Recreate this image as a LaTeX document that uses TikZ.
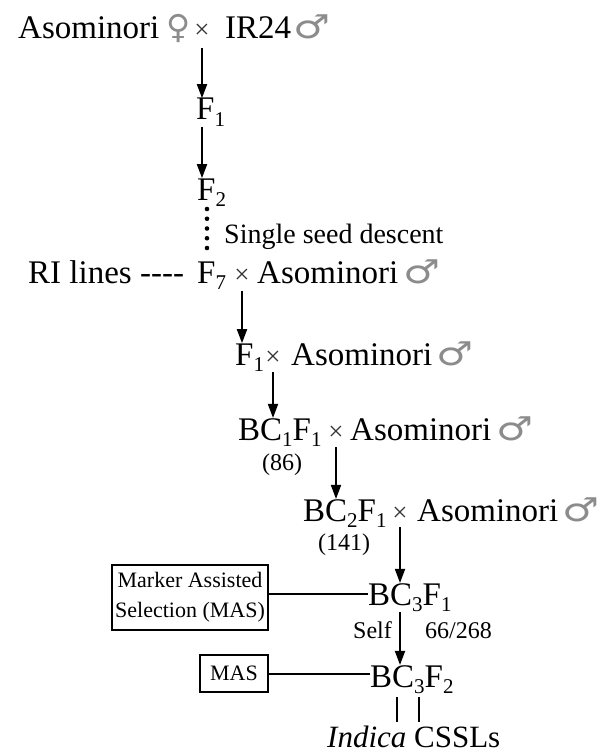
\documentclass[tikz,border=0pt]{standalone}
\usepackage{fontspec}
\setmainfont{Liberation Serif}
\newfontfamily\symf{DejaVu Sans}
\usetikzlibrary{arrows.meta,calc}
\newcommand\sbs[1]{\raisebox{-0.2em}{\fontsize{21}{21}\selectfont #1}}
\newcommand\bigfnt{\fontsize{33}{38}\selectfont}
\newcommand\male{\scalebox{1.25}[1]{♂}}
\newcommand\female{♀}
\begin{document}
\begin{tikzpicture}[x=1pt,y=1pt,
  t/.style={inner sep=0pt, anchor=base west, font=\bigfnt},
  crs/.style={inner sep=0pt, anchor=base, font=\fontsize{27}{30}\selectfont, text=black!80},
  sm/.style={inner sep=0pt, anchor=base west, font=\fontsize{24}{26}\selectfont},
  sym/.style={inner sep=0pt, anchor=base west, font=\symf\fontsize{33}{36}\selectfont, text=black!45},
  arr/.style={line width=1.8pt, -{Triangle[length=14pt,width=10pt]}},
  bx/.style={draw, line width=2.2pt, inner sep=0pt, align=center},
  ln/.style={line width=2pt}]
\useasboundingbox (0,0) rectangle (602,-754);
% line 1
\node[t] (a1) at (18,-39) {Asominori};
\node[sym] (fem) at (166,-39) {\female};
\node[crs] (x1) at (202,-39) {×};
\node[t] (ir) at (225,-39) {IR24};
\node[sym] (m1) at (293,-39) {\male};
% F1, F2
\node[t] (f1) at (196,-120) {F\sbs{1}};
\node[t] (f2) at (197,-200) {F\sbs{2}};
\node[inner sep=0pt, anchor=base west, font=\fontsize{28}{30}\selectfont] (ssd) at (224,-243) {Single seed descent};
% RI line
\node[t] (ri) at (28,-283) {RI lines -{}-{}-{}-};
\node[t] (f7) at (197,-283) {F\sbs{7}};
\node[crs] (x3) at (242,-283) {×};
\node[t] (as3) at (257,-283) {Asominori};
\node[sym] (m3) at (403,-283) {\male};
% F1 x
\node[t] (f1b) at (235,-365) {F\sbs{1}};
\node[crs] (x4) at (273,-365) {×};
\node[t] (as4) at (291,-365) {Asominori};
\node[sym] (m4) at (436,-365) {\male};
% BC1F1
\node[t] (bc1) at (238,-440) {BC\sbs{1}F\sbs{1}};
\node[crs] (x5) at (336,-440) {×};
\node[t] (as5) at (350,-440) {Asominori};
\node[sym] (m5) at (496,-440) {\male};
\node[sm] (n86) at (262,-470) {(86)};
% BC2F1
\node[t] (bc2) at (303,-521) {BC\sbs{2}F\sbs{1}};
\node[crs] (x6) at (400,-521) {×};
\node[t] (as6) at (417,-521) {Asominori};
\node[sym] (m6) at (562,-521) {\male};
\node[sm] (n141) at (318,-550) {(141)};
% BC3F1
\node[t] (bc3f1) at (368,-605) {BC\sbs{3}F\sbs{1}};
\node[sm] (self) at (353,-638) {Self};
\node[sm] (r66) at (425,-638) {66/268};
\node[t] (bc3f2) at (370,-687) {BC\sbs{3}F\sbs{2}};
\node[inner sep=0pt, anchor=base west, font=\fontsize{31}{34}\selectfont] (ind) at (327,-747) {\itshape Indica\upshape{} CSSLs};
% boxes
\node[bx, minimum width=156pt, minimum height=65pt, font=\fontsize{22}{30}\selectfont] (mas1) at (190,-597.5) {Marker Assisted\\Selection (MAS)};
\node[bx, minimum width=68pt, minimum height=37pt, font=\fontsize{22}{24}\selectfont] (mas2) at (234,-673.5) {MAS};
% arrows
\draw[arr, shorten <=9pt] (x1.south) -- (x1.south |- f1.north);
\draw[arr] (x1 |- f1.south) -- (x1 |- f2.north);
\coordinate (d1) at (207,-209);
\coordinate (d2) at (207,-248);
\foreach \i in {0,...,4} \fill ($(d1)!\i/4!(d2)$) circle (2.3pt);
\draw[arr, shorten <=8pt] (x3.south) -- (x3.south |- f1b.north);
\draw[arr, shorten <=7pt] (x4.south) -- (x4.south |- bc1.north);
\draw[arr, shorten <=7pt] (x5.south) -- (x5.south |- bc2.north);
\draw[arr, shorten <=6pt] (x6.south) -- (x6.south |- bc3f1.north);
\draw[arr] (x6 |- bc3f1.south) -- (x6 |- bc3f2.north);
% connectors
\draw[ln] ([yshift=4pt]mas1.east) -- ([yshift=4pt]mas1.east -| bc3f1.west);
\draw[ln] (mas2.east) -- (mas2.east -| bc3f2.west);
\path (bc3f2.base west) ++(27,0) coordinate (dl1) ++(22,0) coordinate (dl2);
\draw[ln, shorten <=3pt, shorten >=3pt] (dl1 |- bc3f2.south) -- (dl1 |- ind.north);
\draw[ln, shorten <=3pt, shorten >=3pt] (dl2 |- bc3f2.south) -- (dl2 |- ind.north);
\end{tikzpicture}
\end{document}
